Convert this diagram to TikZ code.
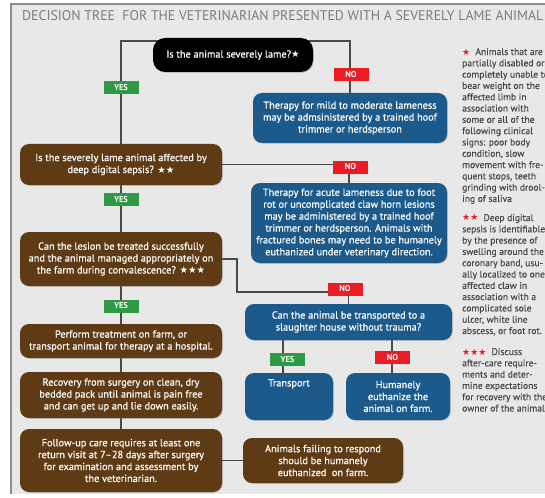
\documentclass[tikz,border=0pt]{standalone}
\usepackage{graphicx}
\usepackage{fontspec}
\setmainfont{PT Sans}
\newfontfamily\boxf[FakeBold=0.6]{PT Sans}
\newfontfamily\notef[FakeBold=0.3]{PT Sans}
\newfontfamily\symf{DejaVu Sans}
\usetikzlibrary{backgrounds,shadows}
\definecolor{bgc}{HTML}{E8E8E8}
\definecolor{brownc}{HTML}{5E3B15}
\definecolor{bluec}{HTML}{1D5A8C}
\definecolor{yesgreen}{HTML}{2E9A44}
\definecolor{nored}{HTML}{EC1C24}
\definecolor{framec}{HTML}{8C8C8C}
\definecolor{linec}{HTML}{4A4A4A}
\definecolor{notec}{HTML}{474747}
\definecolor{titlec}{HTML}{7C7C7C}
\newcommand\wst{{\symf\fontsize{9.5}{9.5}\selectfont ★}}
\newcommand\rst{\textcolor{nored}{\symf\fontsize{9}{9}\selectfont ★}}
\begin{document}
\begin{tikzpicture}[x=1pt,y=-1pt,
  box/.style={rounded corners=9pt, text=white, align=center,
    font=\boxf\fontsize{10.3}{11.9}\selectfont, inner sep=1pt,
    drop shadow={shadow xshift=0.8pt, shadow yshift=-0.8pt, opacity=0.35}},
  brownbox/.style={box, fill=brownc},
  bluebox/.style={box, fill=bluec},
  blackbox/.style={box, fill=black, rounded corners=12pt},
  tag/.style={text=white, font=\fontsize{8.5}{8.5}\selectfont\bfseries,
    minimum width=35pt, minimum height=13pt, inner sep=0pt},
  yestag/.style={tag, fill=yesgreen},
  notag/.style={tag, fill=nored},
  conn/.style={draw=linec, line width=1.2pt},
  note/.style={text=notec, align=left, anchor=north west, inner sep=0pt,
    font=\notef\fontsize{9.6}{11.3}\selectfont}
]
\useasboundingbox (0,0) rectangle (545,497);
\clip (0,0) rectangle (545,497);
\begin{pgfonlayer}{background}
  \fill[white] (0,0) rectangle (545,497);
  \fill[bgc] (11,4) rectangle (545,494);
  \draw[framec, line width=1.5pt] (11,494) -- (11,4) -- (545,4);
\end{pgfonlayer}

% title
\node[anchor=base west, text=titlec, inner sep=0pt] (title) at (22,21)
  {\resizebox{521pt}{10pt}{DECISION TREE\ \ FOR THE VETERINARIAN PRESENTED WITH A SEVERELY LAME ANIMAL}};

% main nodes
\node[blackbox, minimum width=160pt, minimum height=34pt] (q1) at (233,55)
  {Is the animal severely lame?\wst};
\node[bluebox, minimum width=194pt, minimum height=50pt] (t1) at (350,118)
  {Therapy for mild to moderate lameness\\may be admsinistered by a trained hoof\\trimmer or herdsperson};
\node[brownbox, minimum width=202pt, minimum height=41pt] (q2) at (121,164.5)
  {Is the severely lame animal affected by\\deep digital sepsis? \wst\wst};
\node[bluebox, minimum width=196pt, minimum height=80pt] (t2) at (349,223)
  {Therapy for acute lameness due to foot\\rot or uncomplicated claw horn lesions\\may be administered by a trained hoof\\trimmer or herdsperson. Animals with\\fractured bones may need to be humanely\\euthanized under veterinary direction.};
\node[brownbox, minimum width=202pt, minimum height=54pt] (q3) at (121,259)
  {Can the lesion be treated successfully\\and the animal managed appropriately on\\the farm during convalescence? \wst\wst\wst};
\node[bluebox, minimum width=207pt, minimum height=36pt] (q4) at (348.5,322)
  {Can the animal be transported to a\\slaughter house without trauma?};
\node[brownbox, minimum width=202pt, minimum height=34pt] (p1) at (121,341)
  {Perform treatment on farm, or\\transport animal for therapy at a hospital.};
\node[brownbox, minimum width=202pt, minimum height=46pt] (p2) at (121,395)
  {Recovery from surgery on clean, dry\\bedded pack until animal is pain free\\and can get up and lie down easily.};
\node[brownbox, minimum width=202pt, minimum height=63pt] (p3) at (121,460.5)
  {Follow-up care requires at least one\\return visit at 7–28 days after surgery\\for examination and assessment by\\the veterinarian.};
\node[bluebox, minimum width=88pt, minimum height=47pt] (tr) at (289,396.5)
  {Transport\\\strut\\\strut};
\node[bluebox, minimum width=104pt, minimum height=47pt] (eu) at (398,396.5)
  {Humanely\\euthanize the\\animal on farm.};
\node[brownbox, minimum width=160pt, minimum height=45pt] (fail) at (323,460.5)
  {Animals failing to respond\\should be humanely\\euthanized\ \ on farm.};

% connectors
\coordinate (c1) at (121,41);
\coordinate (c2) at (350,41);
\coordinate (c3) at (237,292);
\begin{pgfonlayer}{background}
  \draw[conn] (q2.north) -- (c1) -- (c2) -- (t1.north);
  \draw[conn] (q2.east) -| (t2.north);
  \draw[conn] (q2.south) -- (q3.north);
  \draw[conn] (q3.east) -| (c3) -| (q4.north);
  \draw[conn] (q3.south) -- (p1.north);
  \draw[conn] (p1.south) -- (p2.north);
  \draw[conn] (p2.south) -- (p3.north);
  \draw[conn] (q4.south -| 283,0) -- (tr.north -| 283,0);
  \draw[conn] (q4.south -| 392,0) -- (eu.north -| 392,0);
  \draw[conn] (p3.east) -- (fail.west);
\end{pgfonlayer}

% tags
\node[yestag] (y1) at (121,88) {YES};
\node[notag] (n1) at (351,74.5) {NO};
\node[yestag] (y2) at (121,199.5) {YES};
\node[notag] (n2) at (350.5,167) {NO};
\node[yestag] (y3) at (121,306) {YES};
\node[notag] (n3) at (345,289) {NO};
\node[yestag] (y4) at (287.5,359.5) {YES};
\node[notag] (n4) at (392.5,357.5) {NO};

% notes
\node[note] (nt1) at (462,48)
  {\rst\ \ Animals that are\\partially disabled or\\completely unable to\\bear weight on the\\affected limb in\\association with\\some or all of the\\following clinical\\signs: poor body\\condition, slow\\movement with fre-\\quent stops, teeth\\grinding with drool-\\ing of saliva};
\node[note] (nt2) at (462,214)
  {\rst\rst\ \ Deep digital\\sepsis is identifiable\\by the presence of\\swelling around the\\coronary band, usu-\\ally localized to one\\affected claw in\\association with a\\complicated sole\\ulcer, white line\\abscess, or foot rot.};
\node[note] (nt3) at (462,348)
  {\rst\rst\rst\ \ Discuss\\after-care require-\\ments and deter-\\mine expectations\\for recovery with the\\owner of the animal.};
\end{tikzpicture}
\end{document}
